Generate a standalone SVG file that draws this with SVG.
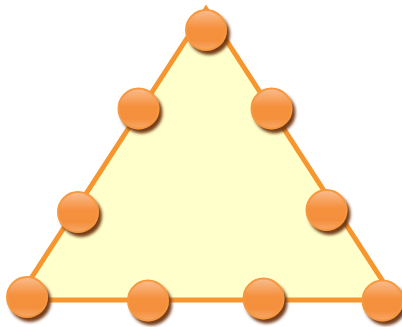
<svg xmlns="http://www.w3.org/2000/svg" width="402" height="327" viewBox="0 0 402 327">
<defs>
<linearGradient id="ballGrad" x1="0" y1="0" x2="0" y2="1">
<stop offset="0" stop-color="#F9BD8E"/>
<stop offset="0.45" stop-color="#F5903D"/>
<stop offset="0.75" stop-color="#F48F3C"/>
<stop offset="1" stop-color="#F7A868"/>
</linearGradient>
<filter id="shadow" x="-40%" y="-40%" width="190%" height="190%">
<feDropShadow dx="3" dy="4" stdDeviation="1.6" flood-color="#6E300A" flood-opacity="0.95"/>
</filter>
</defs>
<style>
.tri{fill:#FFFFCC;stroke:#F7962E;stroke-width:5;stroke-linejoin:miter}
.ball{fill:url(#ballGrad);stroke:#F7983F;stroke-width:2;filter:url(#shadow)}
</style>
<g id="triangle">
<polygon class="tri" points="206,9 17,300 395,300"/>
</g>
<g id="connectors"></g>
<g id="n1"><circle class="ball" cx="206" cy="30" r="20"/></g>
<g id="n2"><circle class="ball" cx="138.5" cy="108.5" r="20"/></g>
<g id="n3"><circle class="ball" cx="271.5" cy="108.5" r="20"/></g>
<g id="n4"><circle class="ball" cx="78" cy="212" r="20"/></g>
<g id="n5"><circle class="ball" cx="326.5" cy="210" r="20"/></g>
<g id="n6"><circle class="ball" cx="27" cy="297" r="20"/></g>
<g id="n7"><circle class="ball" cx="148" cy="300.5" r="20"/></g>
<g id="n8"><circle class="ball" cx="263.5" cy="298.5" r="20"/></g>
<g id="n9"><circle class="ball" cx="382.5" cy="300.5" r="20"/></g>
</svg>
